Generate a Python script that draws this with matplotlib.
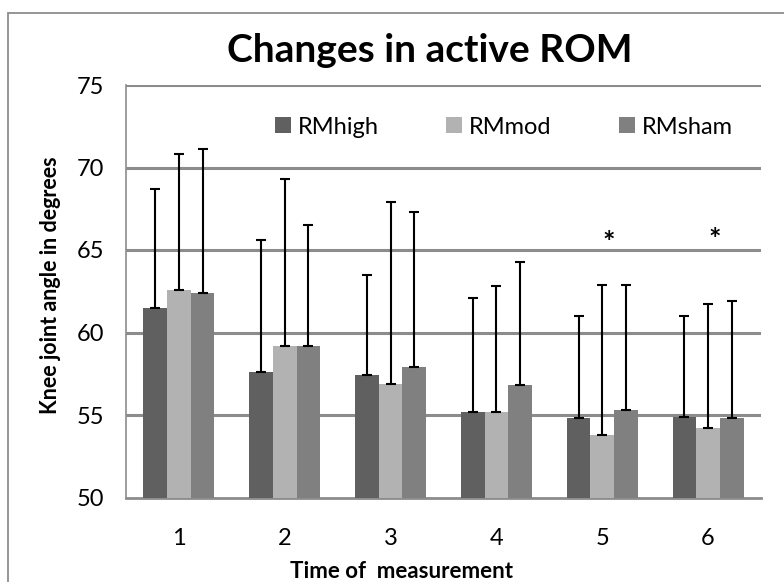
import matplotlib.pyplot as plt
import matplotlib.patches as patches
import numpy as np

# values
times = ["1", "2", "3", "4", "5", "6"]
groups = ["RMhigh", "RMmod", "RMsham"]
rm_high = [61.5, 57.6, 57.4, 55.2, 54.8, 54.9]
rm_mod = [62.6, 59.2, 56.9, 55.2, 53.8, 54.2]
rm_sham = [62.4, 59.2, 57.9, 56.8, 55.3, 54.8]
sd_high = [7.2, 8.0, 6.1, 6.9, 6.2, 6.1]
sd_mod = [8.2, 10.1, 11.0, 7.6, 9.1, 7.5]
sd_sham = [8.7, 7.3, 9.4, 7.5, 7.6, 7.1]
star_times = [5, 6]
star_y = [65.4, 65.6]

colours = ["#606060", "#b2b2b2", "#808080"]
grid_c = "#8c8c8c"
font = ["Lato", "DejaVu Sans"]
plt.rcParams['font.family'] = font

fig = plt.figure(figsize=(7.84, 5.82), dpi=100)
ax = fig.add_axes([126/784, 1 - 497.5/582, 635/784, 412.5/582])

x = np.arange(len(times))
w = 0.224
means = [rm_high, rm_mod, rm_sham]
sds = [sd_high, sd_mod, sd_sham]
for k in range(3):
    xs = x + (k - 1) * w
    ax.bar(xs, means[k], w, color=colours[k], label=groups[k], zorder=3)
    ax.errorbar(xs, means[k], yerr=[np.zeros(len(x)), sds[k]], fmt='none',
                ecolor='black', elinewidth=1.5, capsize=3.6, capthick=1.5,
                zorder=4)

for i, t in enumerate(star_times):
    ax.text(t - 1 + 0.06, star_y[i], "*", ha='center', va='center',
            fontsize=21, fontweight='bold')

ax.set_xlim(-0.5, len(times) - 0.5)
ax.set_ylim(50, 75)
ax.set_yticks(range(50, 76, 5))
ax.set_xticks(x)
ax.set_xticklabels(times)
for y in range(55, 76, 5):
    ax.axhline(y, color=grid_c, lw=2.2, zorder=1)
ax.tick_params(length=0, labelsize=17)
ax.tick_params(axis='y', pad=16)
ax.tick_params(axis='x', pad=22)
for s in ['top', 'right']:
    ax.spines[s].set_visible(False)
ax.spines['left'].set_color(grid_c)
ax.spines['left'].set_linewidth(1.2)
ax.spines['bottom'].set_color(grid_c)
ax.spines['bottom'].set_linewidth(2.0)

fig.text(430/784, 1 - 50/582, "Changes in active ROM", ha='center',
         va='center', fontsize=28, fontweight='bold')
fig.text(51/784, 1 - 285/582, "Knee joint angle in degrees", ha='center',
         va='center', rotation=90, fontsize=15.5, fontweight='bold')
fig.text(401/784, 1 - 571/582, "Time of  measurement", ha='center',
         va='center', fontsize=16, fontweight='bold')

ax.legend(loc='center', bbox_to_anchor=(504/784, 1 - 127/582),
          bbox_transform=fig.transFigure, ncol=3, frameon=False,
          handlelength=0.68, handleheight=0.68, handletextpad=0.3,
          columnspacing=2.85, fontsize=17)

# outer chart border, cut off at right and bottom
fig.patches.append(patches.Rectangle((8/784, -0.1), 1.2, 1.1 - 13/582,
                                     transform=fig.transFigure, fill=False,
                                     edgecolor=grid_c, lw=1.3))

fig.savefig("out.png", dpi=100)
